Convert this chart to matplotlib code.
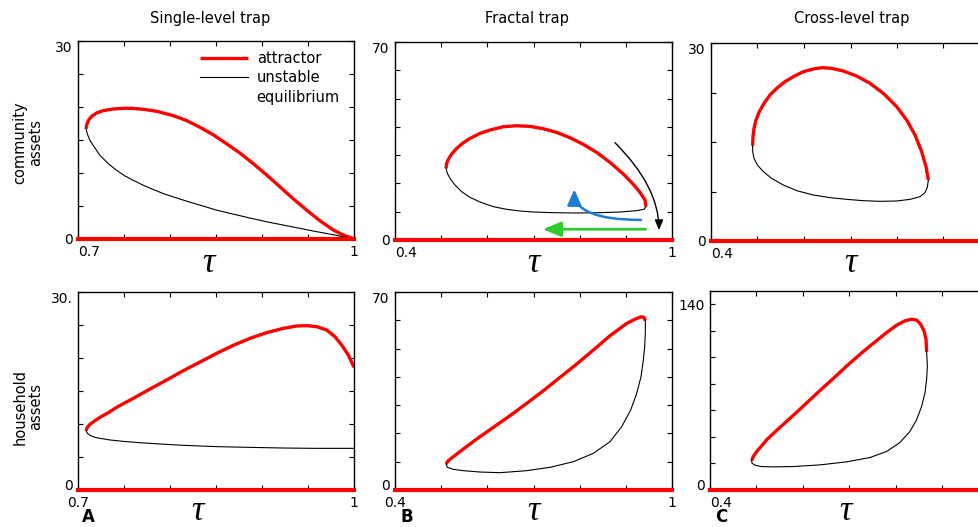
import matplotlib.pyplot as plt

# ---- data (tau, assets) ----
# A: single-level trap
a_comm_attr_x = [0.7087, 0.7094, 0.7116, 0.7149, 0.7203, 0.7275, 0.7384, 0.7493, 0.7583, 0.7710, 0.7855,
                 0.8036, 0.8181, 0.8326, 0.8471, 0.8616, 0.8761, 0.8906, 0.9051, 0.9196, 0.9341, 0.9486,
                 0.9630, 0.9775, 0.9884, 1.0]
a_comm_attr_y = [16.68, 17.34, 18.04, 18.59, 19.10, 19.45, 19.70, 19.80, 19.80, 19.65, 19.35,
                 18.69, 17.94, 16.93, 15.78, 14.42, 13.02, 11.41, 9.70, 7.89, 6.08, 4.37,
                 2.76, 1.36, 0.60, 0.0]
a_comm_uns_x = [0.7087, 0.7101, 0.7130, 0.7185, 0.7239, 0.7330, 0.7420, 0.7511, 0.7601, 0.7710, 0.7819,
                0.7928, 0.8036, 0.8181, 0.8326, 0.8507, 0.8688, 0.8870, 0.9051, 0.9232, 0.9413, 0.9594,
                0.9775, 1.0]
a_comm_uns_y = [16.68, 15.93, 14.92, 13.77, 12.66, 11.41, 10.40, 9.55, 8.89, 8.14, 7.49,
                6.88, 6.38, 5.73, 5.13, 4.37, 3.77, 3.17, 2.61, 2.11, 1.61, 1.11,
                0.65, 0.0]

a_hh_attr_x = [0.7087, 0.7101, 0.7130, 0.7185, 0.7239, 0.7330, 0.7420, 0.7601, 0.7783, 0.7964, 0.8145,
               0.8326, 0.8507, 0.8688, 0.8870, 0.9051, 0.9232, 0.9377, 0.9486, 0.9594, 0.9703, 0.9793,
               0.9866, 0.9938, 1.0]
a_hh_attr_y = [8.99, 9.49, 9.95, 10.51, 11.01, 11.72, 12.53, 13.89, 15.30, 16.67, 18.08,
               19.39, 20.71, 21.92, 22.98, 23.84, 24.49, 24.85, 24.90, 24.75, 24.24, 23.23,
               21.97, 20.45, 18.59]
a_hh_uns_x = [0.7087, 0.7101, 0.7130, 0.7185, 0.7239, 0.7348, 0.7493, 0.7674, 0.7891, 0.8145, 0.8507,
              0.8870, 0.9232, 0.9594, 1.0]
a_hh_uns_y = [8.99, 8.59, 8.28, 7.98, 7.83, 7.58, 7.37, 7.17, 6.97, 6.77, 6.57,
              6.46, 6.36, 6.31, 6.31]

# B: fractal trap
b_comm_attr_x = [0.5105, 0.5119, 0.5155, 0.5227, 0.5336, 0.5480, 0.5625, 0.5841, 0.6058, 0.6347, 0.6635,
                 0.6924, 0.7213, 0.7502, 0.7791, 0.8079, 0.8368, 0.8657, 0.8946, 0.9162, 0.9307, 0.9415,
                 0.9437]
b_comm_attr_y = [25.32, 27.09, 28.50, 30.39, 32.39, 34.39, 35.92, 37.69, 38.87, 40.05, 40.40,
                 40.16, 39.34, 38.04, 36.16, 33.80, 30.98, 27.44, 23.32, 19.67, 16.84, 14.13,
                 11.78]
b_comm_uns_x = [0.5105, 0.5134, 0.5191, 0.5300, 0.5444, 0.5625, 0.5841, 0.6130, 0.6419, 0.6708, 0.6996,
                0.7430, 0.7935, 0.8440, 0.8874, 0.9235, 0.9394, 0.9437]
b_comm_uns_y = [25.32, 23.56, 21.79, 19.43, 17.08, 15.08, 13.43, 11.78, 10.84, 10.25, 9.89,
                9.66, 9.54, 9.66, 9.89, 10.37, 10.84, 11.78]

b_hh_attr_x = [0.5105, 0.5155, 0.5264, 0.5480, 0.5769, 0.6130, 0.6491, 0.6852, 0.7213, 0.7574, 0.7935,
               0.8296, 0.8657, 0.9018, 0.9235, 0.9343, 0.9401, 0.9422]
b_hh_attr_y = [9.19, 10.37, 11.78, 14.49, 18.02, 22.14, 26.27, 30.62, 35.10, 39.81, 44.52,
               49.47, 54.53, 58.89, 60.66, 61.25, 60.90, 59.84]
b_hh_uns_x = [0.9422, 0.9422, 0.9408, 0.9379, 0.9329, 0.9235, 0.9105, 0.8910, 0.8657, 0.8296, 0.7863,
              0.7357, 0.6852, 0.6274, 0.5841, 0.5480, 0.5264, 0.5134, 0.5105]
b_hh_uns_y = [59.84, 55.36, 50.65, 45.94, 40.05, 34.16, 28.27, 22.38, 17.08, 12.96, 10.01,
              8.01, 6.83, 6.12, 6.36, 6.83, 7.30, 8.01, 9.19]

# C: cross-level trap
c_comm_attr_x = [0.4896, 0.4903, 0.4925, 0.4968, 0.5039, 0.5140, 0.5269, 0.5412, 0.5591, 0.5771, 0.5986,
                 0.6201, 0.6380, 0.6595, 0.6846, 0.7133, 0.7419, 0.7706, 0.7993, 0.8208, 0.8387, 0.8530,
                 0.8624, 0.8674]
c_comm_attr_y = [14.44, 15.81, 17.07, 18.33, 19.60, 20.86, 22.12, 23.13, 24.14, 24.90, 25.66,
                 26.06, 26.26, 26.16, 25.76, 25.00, 23.89, 22.37, 20.35, 18.33, 16.06, 13.54,
                 11.26, 9.24]
c_comm_uns_x = [0.4896, 0.4896, 0.4925, 0.4996, 0.5125, 0.5305, 0.5556, 0.5842, 0.6201, 0.6559, 0.6918,
                0.7276, 0.7634, 0.7993, 0.8280, 0.8495, 0.8602, 0.8652, 0.8674]
c_comm_uns_y = [14.44, 13.54, 12.53, 11.52, 10.51, 9.49, 8.48, 7.63, 6.97, 6.57, 6.31,
                6.11, 6.01, 6.06, 6.31, 6.72, 7.32, 8.13, 9.24]

c_hh_attr_x = [0.4896, 0.4932, 0.5004, 0.5111, 0.5219, 0.5434, 0.5649, 0.5864, 0.6079, 0.6366, 0.6652,
               0.6939, 0.7226, 0.7513, 0.7799, 0.8014, 0.8194, 0.8337, 0.8444, 0.8530, 0.8602, 0.8645,
               0.8659]
c_hh_attr_y = [22.22, 25.25, 29.04, 33.33, 37.88, 44.95, 51.77, 58.59, 65.66, 75.00, 84.09,
               93.43, 102.27, 110.61, 118.69, 124.24, 127.53, 128.79, 128.03, 125.00, 119.95, 113.64,
               104.04]
c_hh_uns_x = [0.8659, 0.8674, 0.8659, 0.8624, 0.8552, 0.8444, 0.8301, 0.8086, 0.7799, 0.7441, 0.6939,
              0.6366, 0.5792, 0.5362, 0.5111, 0.4968, 0.4903, 0.4896]
c_hh_uns_y = [104.04, 93.43, 83.33, 73.23, 63.13, 53.03, 44.19, 35.86, 29.04, 24.49, 21.21,
              18.94, 17.68, 17.42, 17.68, 18.69, 20.20, 22.22]

# arrows in panel B (top): (start, end)
arrow_black = ((0.8765, 34.4), (0.9718, 3.5))
arrow_blue = ((0.9328, 7.1), (0.7884, 17.9))
arrow_green = ((0.943, 3.8), (0.72, 3.8))

col_titles = ['Single-level trap', 'Fractal trap', 'Cross-level trap']
panel_letters = ['A', 'B', 'C']
xlims = [(0.7, 1.0), (0.4, 1.0), (0.4, 1.0)]
xtick_step = [0.05, 0.1, 0.1]
xlabels = [('0.7', '1'), ('0.4', '1'), ('0.4', '')]
top_ylims = [(0, 30, 5), (0, 70, 10), (0, 30, 7.5)]
bot_ylims = [(0, 30, 5), (0, 70, 10), (0, 150, 20)]
top_ylabels = ['30', '70', '30']
bot_ylabels = ['30.', '70', '140']

RED = '#ff0000'
W, H = 979, 527
fig = plt.figure(figsize=(W / 100, H / 100), dpi=100)


def add_ax(l, t, r, b):
    return fig.add_axes([l / W, 1 - b / H, (r - l) / W, (b - t) / H])


boxes_top = [(78, 41, 354, 239), (395, 42, 672, 240), (711, 43, 990, 241)]
boxes_bot = [(78, 292, 354, 490), (395, 292, 672, 490), (710, 291, 989, 490)]

top_data = [(a_comm_attr_x, a_comm_attr_y, a_comm_uns_x, a_comm_uns_y),
            (b_comm_attr_x, b_comm_attr_y, b_comm_uns_x, b_comm_uns_y),
            (c_comm_attr_x, c_comm_attr_y, c_comm_uns_x, c_comm_uns_y)]
bot_data = [(a_hh_attr_x, a_hh_attr_y, a_hh_uns_x, a_hh_uns_y),
            (b_hh_attr_x, b_hh_attr_y, b_hh_uns_x, b_hh_uns_y),
            (c_hh_attr_x, c_hh_attr_y, c_hh_uns_x, c_hh_uns_y)]


def style(ax, i, ylim, ytop_label, row):
    x0, x1 = xlims[i]
    n = int(round((x1 - x0) / xtick_step[i]))
    xt = [x0 + k * xtick_step[i] for k in range(n + 1)]
    ax.set_xlim(x0, x1)
    ax.set_xticks(xt)
    ax.set_xticklabels([xlabels[i][0]] + [''] * (n - 1) + [xlabels[i][1]])
    y0, y1, ys = ylim
    ny = int(round(y1 / ys))
    yt = [k * ys for k in range(ny + 1)]
    if y1 == 150:
        yt = [k * ys for k in range(8)]
    ax.set_ylim(y0, y1)
    ax.set_yticks(yt)
    ax.set_yticklabels(['0'] + [''] * (len(yt) - 2) + [ytop_label])
    ax.tick_params(direction='in', top=True, right=True, length=3.5, width=0.8,
                   labelsize=10, pad=4)
    xl = ax.get_xticklabels()
    if row == 0 or i == 2:
        xl[0].set_ha('left')
    yl = ax.get_yticklabels()
    if row == 1:
        yl[0].set_va('baseline')
    if y1 != 150:
        yl[-1].set_va('top')
    for s in ax.spines.values():
        s.set_linewidth(1.0)
    ax.axhline(0, color=RED, lw=3, clip_on=False, zorder=5)


for i in range(3):
    ax = add_ax(*boxes_top[i])
    ax_x, ax_y, ux, uy = top_data[i]
    la, = ax.plot(ax_x, ax_y, color=RED, lw=2.4, solid_capstyle='butt', solid_joinstyle='round')
    lu, = ax.plot(ux, uy, color='black', lw=0.8)
    style(ax, i, top_ylims[i], top_ylabels[i], 0)
    if i == 0:
        blank = plt.Line2D([], [], color='none')
        ax.legend([la, lu, blank], ['attractor', 'unstable', 'equilibrium'], loc='upper left',
                  bbox_to_anchor=(0.42, 0.98), frameon=False, fontsize=10.5,
                  handlelength=3.3, handletextpad=0.6, borderaxespad=0, labelspacing=0.3)
    if i == 1:
        for (st, en), col, cs, lw, hw, hl in [
                (arrow_black, 'black', 'angle3,angleA=-45,angleB=90', 1.0, 0.25, 0.6),
                (arrow_blue, '#1f7bd6', 'angle3,angleA=0,angleB=90', 1.8, 0.42, 0.95),
                (arrow_green, '#2fcc2f', 'arc3,rad=0', 2.0, 0.45, 1.1)]:
            ax.annotate('', xy=en, xytext=st,
                        arrowprops=dict(arrowstyle='-|>,head_width=%s,head_length=%s' % (hw, hl),
                                        color=col, lw=lw, connectionstyle=cs,
                                        shrinkA=0, shrinkB=0))

    ax = add_ax(*boxes_bot[i])
    ax_x, ax_y, ux, uy = bot_data[i]
    ax.plot(ax_x, ax_y, color=RED, lw=2.4, solid_capstyle='butt', solid_joinstyle='round')
    ax.plot(ux, uy, color='black', lw=0.8)
    style(ax, i, bot_ylims[i], bot_ylabels[i], 1)

# column titles, tau labels, row labels, panel letters
tit_x = [210, 527, 852]
for t, x in zip(col_titles, tit_x):
    fig.text(x / W, 1 - 18 / H, t, ha='center', va='center', fontsize=10.5)

tau_top = [208, 533, 850]
tau_bot = [197, 533, 845]
for x in tau_top:
    fig.text(x / W, 1 - 264 / H, '\u03c4', ha='center', va='center', fontsize=25,
             family='Liberation Serif', style='italic')
for x in tau_bot:
    fig.text(x / W, 1 - 511 / H, '\u03c4', ha='center', va='center', fontsize=25,
             family='Liberation Serif', style='italic')

fig.text(28 / W, 1 - 143 / H, 'community\nassets', rotation=90, ha='center', va='center',
         fontsize=10.5, linespacing=1.1)
fig.text(28 / W, 1 - 407 / H, 'household\nassets', rotation=90, ha='center', va='center',
         fontsize=10.5, linespacing=1.1)

for x, s in zip([88, 407, 721], panel_letters):
    fig.text(x / W, 1 - 517 / H, s, ha='center', va='center', fontsize=12, fontweight='bold')

fig.savefig('out.png', dpi=100)
